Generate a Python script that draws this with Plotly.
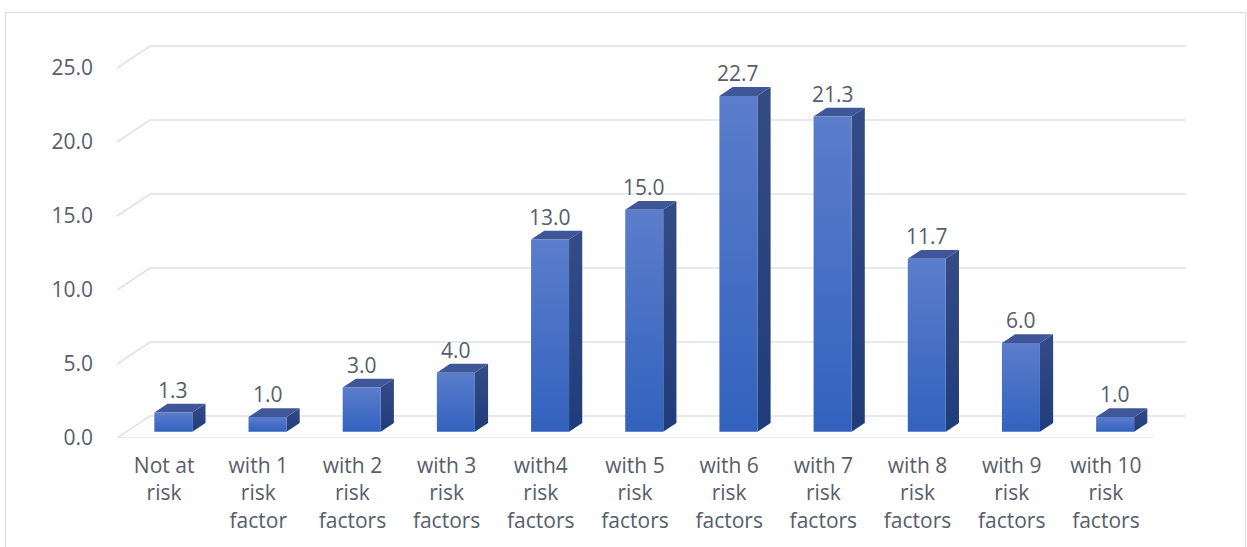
import plotly.graph_objects as go

# Share of respondents by number of cardiovascular risk factors (%)
categories = [
    "Not at<br>risk", "with 1<br>risk<br>factor", "with 2<br>risk<br>factors",
    "with 3<br>risk<br>factors", "with4<br>risk<br>factors", "with 5<br>risk<br>factors",
    "with 6<br>risk<br>factors", "with 7<br>risk<br>factors", "with 8<br>risk<br>factors",
    "with 9<br>risk<br>factors", "with 10<br>risk<br>factors",
]
values = [1.3, 1.0, 3.0, 4.0, 13.0, 15.0, 22.7, 21.3, 11.7, 6.0, 1.0]
y_ticks = [0, 5, 10, 15, 20, 25]

# ---- layout geometry (pixels) ----
W, H = 1247, 547
ML, MR, MT, MB = 117, 60, 40, 109
PX_PER_CAT = 94.18           # horizontal pixels per category slot
PX_PER_UNIT = 14.8           # vertical pixels per percentage point
plot_w = W - ML - MR
plot_h = H - MT - MB
x_range = [-0.5, -0.5 + plot_w / PX_PER_CAT]
y_range = [0, plot_h / PX_PER_UNIT]

# oblique depth of the 3D floor/walls, in data units
DX = 33 / PX_PER_CAT
DY = 22 / PX_PER_UNIT
FRONT = 0.28                 # depth fraction where bar front faces sit
DEPTH = 0.40                 # depth fraction occupied by each bar
BAR_W = 38 / PX_PER_CAT

FRONT_TOP, FRONT_BOT = "#5b7dcb", "#3262be"
SIDE_TOP, SIDE_BOT = "#344c86", "#1f3c7a"
TOP_FACE = "#3f5698"
GRID = "#dfe2e9"
TEXT = "#565d6b"
FONT = "Open Sans"
FS = 21

fig = go.Figure()

# walls: back gridlines plus the oblique left edge, and the front floor edge
gx, gy = [], []
n = len(categories)
for t in y_ticks:
    gx += [-0.5, -0.5 + DX, n - 0.5 + DX, None]
    gy += [t, t + DY, t + DY, None]
gx += [-0.5, n - 0.5, None]
gy += [0, 0, None]
fig.add_trace(go.Scatter(x=gx, y=gy, mode="lines",
                         line=dict(color=GRID, width=1.6),
                         hoverinfo="skip", showlegend=False))

ox, oy = FRONT * DX, FRONT * DY
ddx, ddy = DEPTH * DX, DEPTH * DY
for i, v in enumerate(values):
    x0 = i + ox - BAR_W / 2
    x1 = x0 + BAR_W
    y0 = oy
    y1 = oy + v
    # right side face
    fig.add_trace(go.Scatter(
        x=[x1, x1 + ddx, x1 + ddx, x1, x1], y=[y0, y0 + ddy, y1 + ddy, y1, y0],
        mode="lines", fill="toself", line=dict(width=0),
        fillgradient=dict(type="vertical", colorscale=[[0, SIDE_BOT], [1, SIDE_TOP]]),
        hoverinfo="skip", showlegend=False))
    # top face
    fig.add_trace(go.Scatter(
        x=[x0, x1, x1 + ddx, x0 + ddx, x0], y=[y1, y1, y1 + ddy, y1 + ddy, y1],
        mode="lines", fill="toself", fillcolor=TOP_FACE, line=dict(width=0),
        hoverinfo="skip", showlegend=False))
    # front face
    fig.add_trace(go.Scatter(
        x=[x0, x1, x1, x0, x0], y=[y0, y0, y1, y1, y0],
        mode="lines", fill="toself", line=dict(width=0),
        fillgradient=dict(type="vertical", colorscale=[[0, FRONT_BOT], [1, FRONT_TOP]]),
        hovertemplate=f"{categories[i].replace('<br>', ' ')}: {v:.1f}<extra></extra>",
        showlegend=False))
    # value label above the bar
    fig.add_annotation(x=i + ox, y=y1 + ddy, text=f"{v:.1f}", showarrow=False,
                       yanchor="middle", yshift=14,
                       font=dict(family=FONT, size=FS, color=TEXT))

fig.update_layout(
    width=W, height=H,
    margin=dict(l=ML, r=MR, t=MT, b=MB),
    paper_bgcolor="white", plot_bgcolor="white",
    showlegend=False,
    font=dict(family=FONT, size=FS, color=TEXT),
    xaxis=dict(range=x_range, tickmode="array", tickvals=list(range(n)),
               ticktext=categories, showgrid=False, zeroline=False,
               showline=False, ticks="", ticklabelstandoff=13,
               tickfont=dict(family=FONT, size=FS, color=TEXT)),
    yaxis=dict(range=y_range, tickmode="array", tickvals=y_ticks,
               ticktext=[f"{t:.1f}" for t in y_ticks], showgrid=False,
               zeroline=False, showline=False, ticks="", ticklabelstandoff=23,
               tickfont=dict(family=FONT, size=FS, color=TEXT)),
    shapes=[dict(type="rect", xref="paper", yref="paper",
                 x0=(5.5 - ML) / plot_w, x1=(1245.5 - ML) / plot_w,
                 y0=-(H + 10 - MT - plot_h) / plot_h, y1=(H - 12.5 - MB) / plot_h,
                 line=dict(color="#dadde3", width=1.2), layer="below")],
)

fig.write_html("out.html")
